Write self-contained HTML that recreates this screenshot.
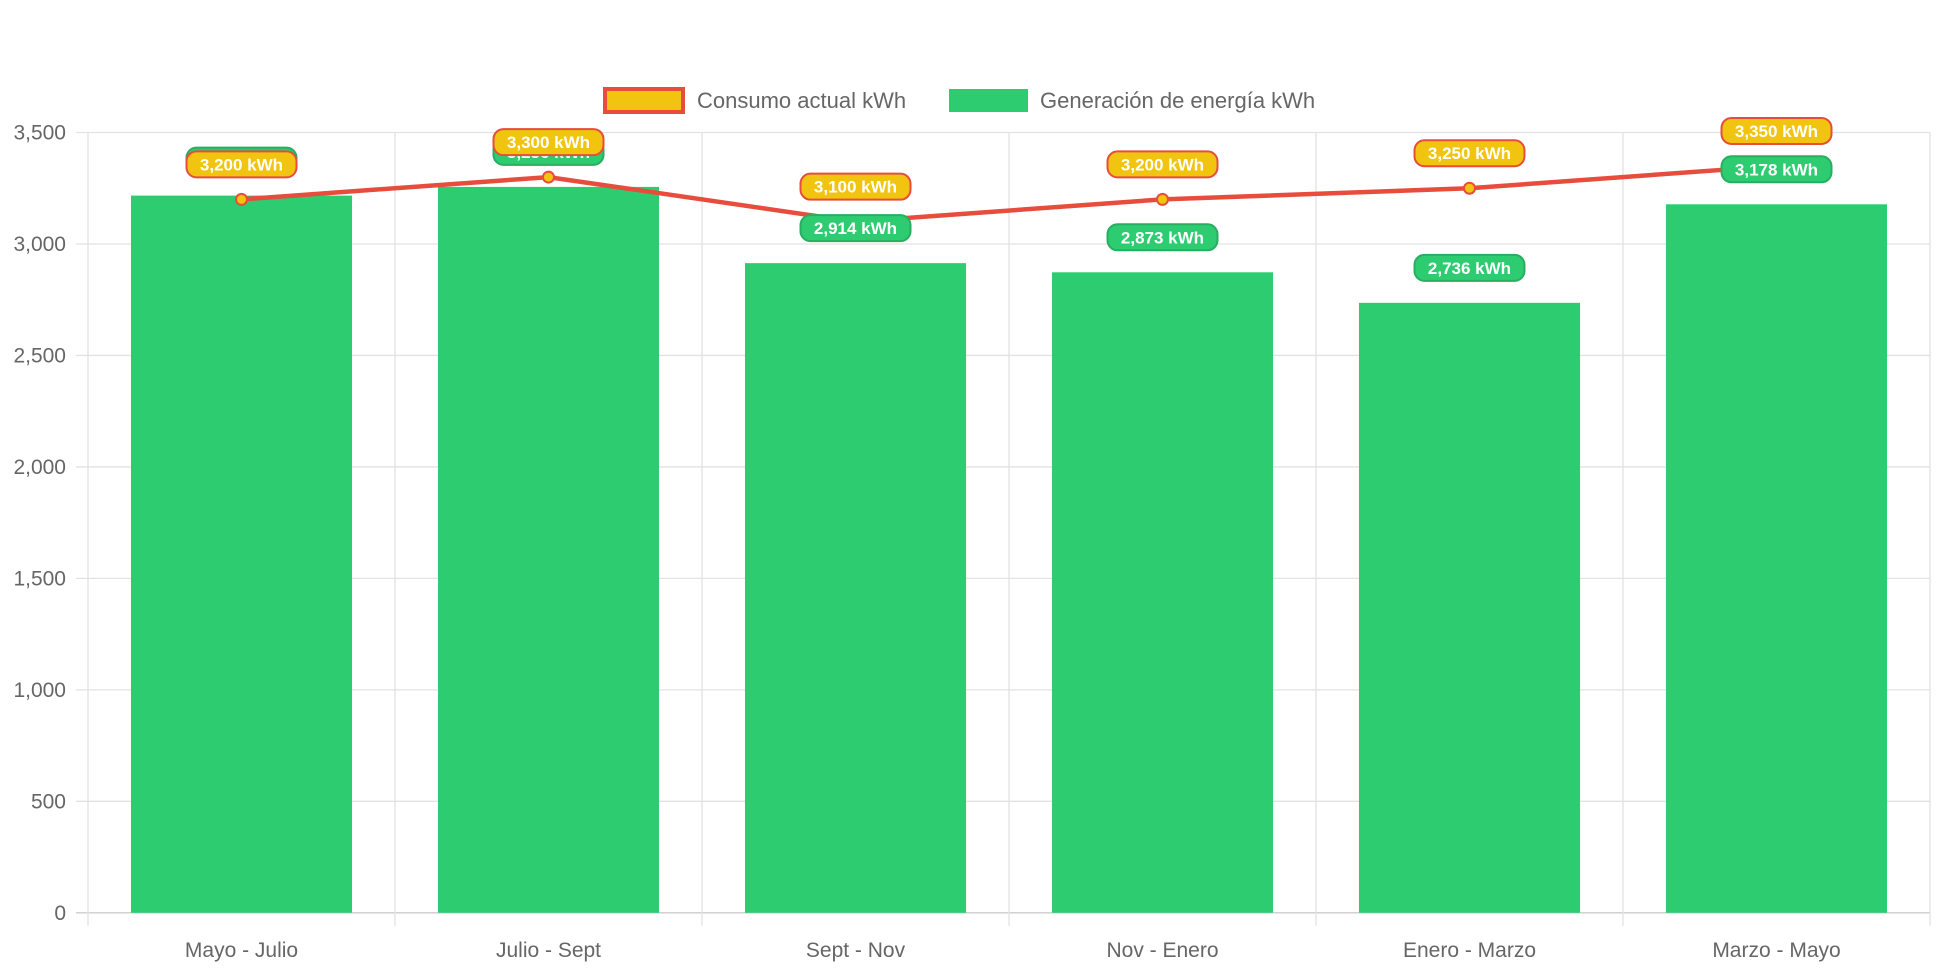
<!DOCTYPE html>
<html><head><meta charset="utf-8"><style>
html,body{margin:0;padding:0;background:#fff;}
svg{display:block;font-family:"Liberation Sans",Arial,sans-serif;}
</style></head><body>
<svg id="chart" width="1942" height="970" viewBox="0 0 1942 970">
  <g id="legend">
    <g>
      <rect x="605" y="89" width="78" height="23" fill="#f1c40f" stroke="#e74c3c" stroke-width="4"/>
      <text x="697" y="108" font-size="22" fill="#666">Consumo actual kWh</text>
    </g>
    <g>
      <rect x="949" y="89" width="79" height="23" fill="#2ecc71"/>
      <text x="1040" y="108" font-size="22" fill="#666">Generación de energía kWh</text>
    </g>
  </g>
  <g id="grid"></g>
  <g id="bars"></g>
  <g id="line"></g>
  <g id="labels"></g>
</svg>
<script>
const categories = ["Mayo - Julio","Julio - Sept","Sept - Nov","Nov - Enero","Enero - Marzo","Marzo - Mayo"];
const generacion = [3217, 3256, 2914, 2873, 2736, 3178];
const consumo = [3200, 3300, 3100, 3200, 3250, 3350];
const yTicks = [0, 500, 1000, 1500, 2000, 2500, 3000, 3500];

const NS = "http://www.w3.org/2000/svg";
const L = 88, R = 1930, T = 132.5, B = 912.8, YMAX = 3500;
const cw = (R - L) / categories.length;
const y = v => B - v / YMAX * (B - T);
const xc = i => L + cw * (i + 0.5);
function mk(tag, attrs, parent) {
  const e = document.createElementNS(NS, tag);
  for (const k in attrs) e.setAttribute(k, attrs[k]);
  parent.appendChild(e);
  return e;
}
const fmt = v => v.toLocaleString("en-US");
const grid = document.getElementById("grid");
yTicks.forEach(t => {
  const ln = mk("line", {x1: L - 12, x2: R, y1: y(t), y2: y(t), stroke: t === 0 ? "#ccc" : "#e2e2e2", "stroke-width": 1.3}, grid);
  
  
  const tx = mk("text", {x: L - 22, y: y(t) + 7, "text-anchor": "end", "font-size": 21, fill: "#666"}, grid);
  tx.textContent = fmt(t);
  
  
});
for (let i = 0; i <= categories.length; i++) {
  const ln = mk("line", {x1: L + cw * i, x2: L + cw * i, y1: T, y2: B + 13, stroke: "#e2e2e2", "stroke-width": 1.3}, grid);
  
  
}
categories.forEach((c, i) => {
  const tx = mk("text", {x: xc(i), y: 957, "text-anchor": "middle", "font-size": 21, fill: "#666"}, grid);
  tx.textContent = c;
  
  
});
const bars = document.getElementById("bars");
const bw = cw * 0.72;
generacion.forEach((v, i) => {
  const r = mk("rect", {x: xc(i) - bw / 2, y: y(v), width: bw, height: B - y(v), fill: "#2ecc71"}, bars);
  
  
});
const lineG = document.getElementById("line");
const pl = mk("polyline", {points: consumo.map((v, i) => xc(i) + "," + y(v)).join(" "), fill: "none", stroke: "#e74c3c", "stroke-width": 4.5}, lineG);


consumo.forEach((v, i) => {
  const c = mk("circle", {cx: xc(i), cy: y(v), r: 5.5, fill: "#f1c40f", stroke: "#e74c3c", "stroke-width": 2}, lineG);
  
  
});
const labels = document.getElementById("labels");
function label(cx, cy, text, fill, stroke, name) {
  const g = mk("g", {}, labels);
  
  
  mk("rect", {x: cx - 55, y: cy - 13, width: 110, height: 26, rx: 10, fill: fill, stroke: stroke, "stroke-width": 2}, g);
  const t = mk("text", {x: cx, y: cy + 6, "text-anchor": "middle", "font-size": 17, "font-weight": "bold", fill: "#fff"}, g);
  t.textContent = text;
}
generacion.forEach((v, i) => label(xc(i), y(v) - 35, fmt(v) + " kWh", "#2ecc71", "#27ae60", "generacion-value-label"));
consumo.forEach((v, i) => label(xc(i), y(v) - 35, fmt(v) + " kWh", "#f1c40f", "#e74c3c", "consumo-value-label"));
</script>
</body></html>
